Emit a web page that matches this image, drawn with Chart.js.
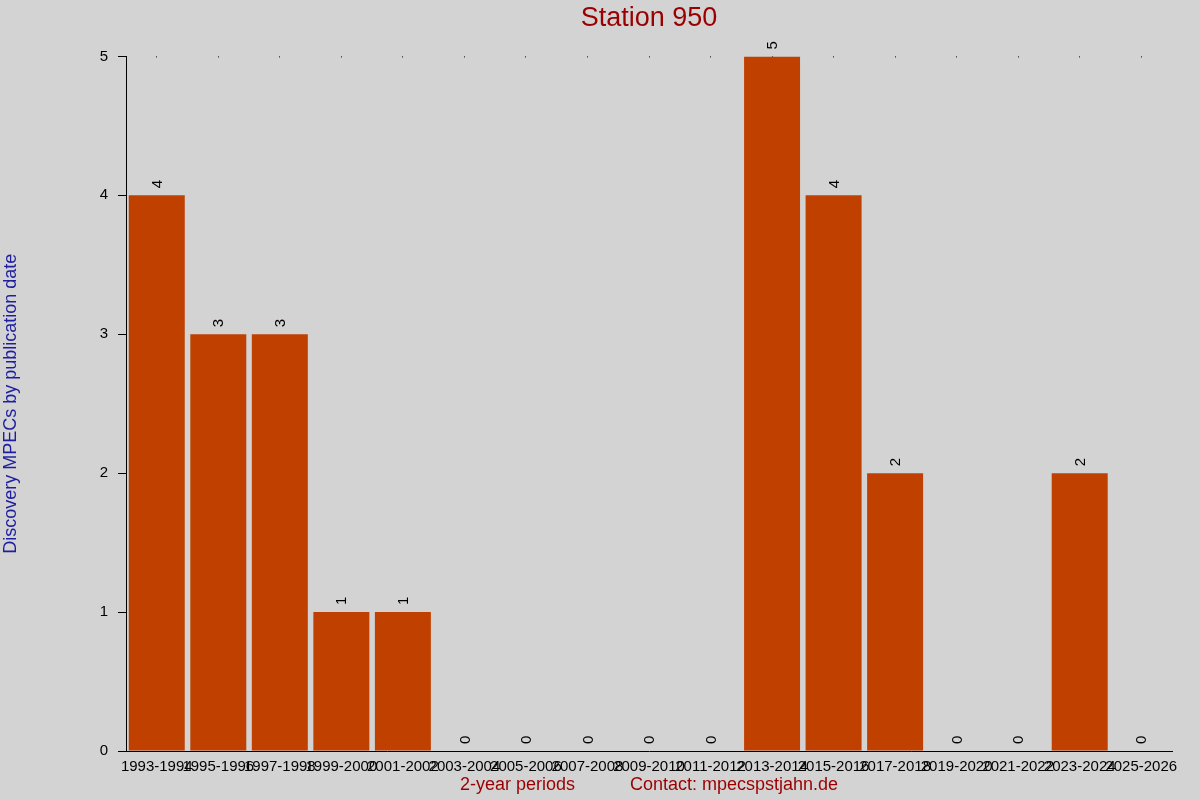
<!DOCTYPE html>
<html>
<head>
<meta charset="utf-8">
<script src="https://cdn.jsdelivr.net/npm/chart.js@4/dist/chart.umd.min.js"></script>
<style>
  html, body { margin: 0; padding: 0; background: #d3d3d3; }
  #wrap { width: 1200px; height: 800px; }
</style>
</head>
<body>
<div id="wrap"><canvas id="chart" width="1200" height="800"></canvas></div>
<script>
const periods = [
  "1993-1994", "1995-1996", "1997-1998", "1999-2000", "2001-2002", "2003-2004",
  "2005-2006", "2007-2008", "2009-2010", "2011-2012", "2013-2014", "2015-2016",
  "2017-2018", "2019-2020", "2021-2022", "2023-2024", "2025-2026",
];
const mpecCounts = [4, 3, 3, 1, 1, 0, 0, 0, 0, 0, 5, 4, 2, 0, 0, 2, 0];
const yTicks = [0, 1, 2, 3, 4, 5];

const FONT = "'Liberation Sans', Arial, sans-serif";

// rotated count above each bar (zeros too)
const barLabels = {
  id: "barLabels",
  afterDatasetsDraw(chart) {
    const ctx = chart.ctx;
    const meta = chart.getDatasetMeta(0);
    ctx.save();
    ctx.font = "15px " + FONT;
    ctx.fillStyle = "#000";
    ctx.textAlign = "left";
    ctx.textBaseline = "middle";
    meta.data.forEach((bar, i) => {
      ctx.save();
      ctx.translate(bar.x + 1, bar.y - 7);
      ctx.rotate(-Math.PI / 2);
      ctx.fillText(String(mpecCounts[i]), 0, 0);
      ctx.restore();
    });
    ctx.restore();
  },
};

new Chart(document.getElementById("chart"), {
  type: "bar",
  data: {
    labels: periods,
    datasets: [{
      data: mpecCounts,
      backgroundColor: "#c04000",
      borderWidth: 0,
      barPercentage: 0.91,
      categoryPercentage: 1,
    }],
  },
  options: {
    responsive: false,
    animation: false,
    layout: { padding: { top: 0, right: 28, bottom: 0, left: 0 } },
    plugins: {
      legend: { display: false },
      tooltip: { enabled: false },
      title: {
        display: true,
        text: "Station 950",
        color: "#9b0000",
        fullSize: false,
        font: { family: FONT, size: 27, weight: "normal" },
        padding: { top: 2, bottom: 22 },
      },
    },
    scales: {
      x: {
        offset: true,
        grid: {
          offset: false,
          drawTicks: false,
          color: "#000",
          lineWidth: 1,
        },
        // dash on grid lines leaves just a dot at the top of each category
        border: { display: true, color: "#000", width: 1, dash: [1, 2000] },
        ticks: {
          color: "#000",
          font: { family: FONT, size: 15 },
          autoSkip: false,
          maxRotation: 0,
          minRotation: 0,
          padding: 7,
        },
        title: {
          display: true,
          text: "2-year periods\u00a0\u00a0\u00a0\u00a0\u00a0\u00a0\u00a0\u00a0\u00a0\u00a0\u00a0Contact: mpecspstjahn.de",
          color: "#9b0000",
          font: { family: FONT, size: 18 },
          padding: { top: 0, bottom: 4 },
        },
        afterFit(scale) { scale.height = 49; },
      },
      y: {
        min: 0,
        max: 5,
        afterBuildTicks(scale) { scale.ticks = yTicks.map(v => ({ value: v })); },
        grid: {
          drawOnChartArea: false,
          drawTicks: true,
          tickLength: 8,
          color: "#000",
        },
        border: { display: true, color: "#000", width: 1 },
        ticks: {
          color: "#000",
          font: { family: FONT, size: 15 },
          padding: 10,
        },
        title: {
          display: true,
          text: "Discovery MPECs by publication date",
          color: "#1e1ea0",
          font: { family: FONT, size: 18 },
          padding: 0,
        },
        afterFit(scale) { scale.width = 126; },
      },
    },
  },
  plugins: [barLabels],
});
</script>
</body>
</html>
